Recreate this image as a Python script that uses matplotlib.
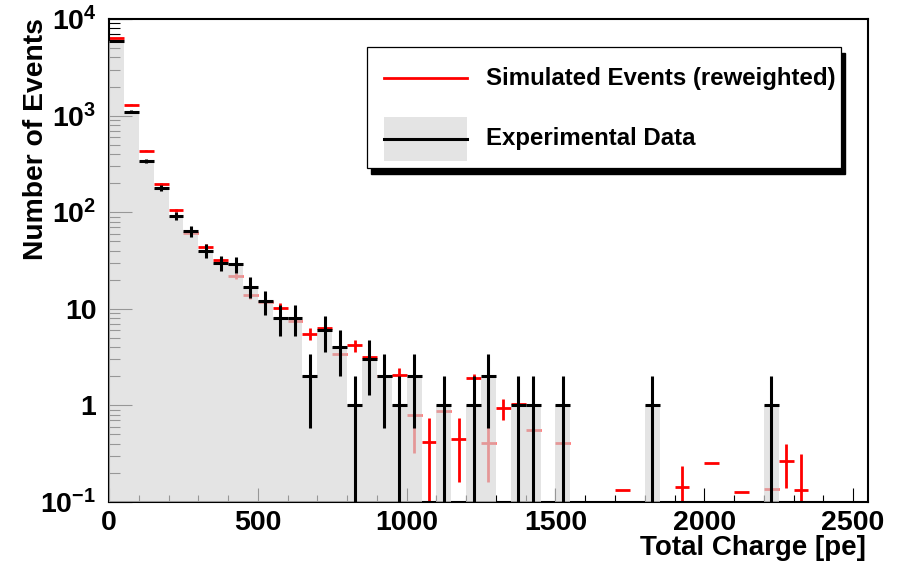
import numpy as np
import matplotlib
matplotlib.use("Agg")
import matplotlib.pyplot as plt
from matplotlib.patches import Rectangle
from matplotlib.lines import Line2D
from matplotlib.ticker import FixedLocator, MultipleLocator, LogLocator, NullFormatter

plt.rcParams['font.family'] = ['Liberation Sans', 'DejaVu Sans']
plt.rcParams['font.weight'] = 'bold'
plt.rcParams['mathtext.fontset'] = 'custom'
plt.rcParams['mathtext.rm'] = 'Liberation Sans:bold'
plt.rcParams['mathtext.bf'] = 'Liberation Sans:bold'
plt.rcParams['mathtext.it'] = 'Liberation Sans:bold'

# histogram binning: 51 bins of 50 pe from 0 to 2550
bin_width = 50
bin_edges = np.arange(0, 2551, bin_width)

# experimental data (counts per bin)
data_counts = [5900, 1100, 340, 178, 92, 64, 40, 30, 29, 17, 12, 8, 8, 2, 6, 4,
               1, 3, 2, 1, 2, 0, 1, 0, 1, 2, 0, 1, 1, 0, 1,
               0, 0, 0, 0, 0, 1, 0, 0, 0, 0, 0, 0, 0, 1, 0, 0, 0, 0, 0, 0]

# simulated events (reweighted) and their errors
sim_values = [6300, 1300, 433, 197, 105, 60.5, 44, 31.8, 22.0, 13.9, 11.8, 10.3,
              7.4, 5.5, 6.3, 3.38, 4.2, 3.15, 2.0, 2.08, 0.79, 0.415, 0.875, 0.45,
              1.9, 0.41, 0.93, 1.03, 0.556, 0, 0.405,
              0, 0, 0, 0.133, 0, 0, 0, 0.144, 0, 0.255, 0, 0.128, 0, 0.137,
              0.268, 0.132, 0, 0, 0, 0]
sim_errors = [0, 10, 8, 5, 4, 3, 2.5, 2, 1.7, 1.3, 1.2, 1.2, 0.9, 0.8, 0.9, 0.6,
              0.6, 0.5, 0.4, 0.36, 0.47, 0.32, 0.3, 0.29, 0.2, 0.25, 0.23, 0.15,
              0.33, 0, 0.3,
              0, 0, 0, 0, 0, 0, 0, 0.09, 0, 0, 0, 0, 0, 0.1, 0.13, 0.18, 0, 0, 0, 0]

x_ticks = [0, 500, 1000, 1500, 2000, 2500]
y_ticks = [0.1, 1, 10, 100, 1000, 10000]
y_ticklabels = [r'$\mathbf{10^{-1}}$', '1', '10', r'$\mathbf{10^{2}}$',
                r'$\mathbf{10^{3}}$', r'$\mathbf{10^{4}}$']

centers = bin_edges[:-1] + bin_width / 2
counts = np.array(data_counts, dtype=float)
sim = np.array(sim_values, dtype=float)
sim_err = np.array(sim_errors, dtype=float)

fill_col = '#d9d9d9'
fill_alpha = 0.7

W, H = 899, 565
fig = plt.figure(figsize=(W / 100, H / 100), dpi=100)
ax = fig.add_axes([109 / W, 1 - 502 / H, 759 / W, 483 / H])
ax.set_yscale('log', nonpositive='clip')

# simulated (drawn first, under the data fill)
m = sim > 0
lo = np.minimum(sim_err[m], sim[m] * 0.999)
ax.errorbar(centers[m], sim[m], xerr=bin_width / 2, yerr=[lo, sim_err[m]],
            fmt='none', ecolor='#ff0000', elinewidth=2.0, capsize=0, zorder=2)

# experimental data: grey filled histogram + poisson error bars
ax.bar(centers, counts, width=bin_width, color=fill_col, alpha=fill_alpha,
       linewidth=0, zorder=3)
k = counts > 0
err = np.sqrt(counts[k])
lo_d = np.where(counts[k] - err <= 0, counts[k] * 0.999, err)
ax.errorbar(centers[k], counts[k], xerr=bin_width / 2, yerr=[lo_d, err],
            fmt='none', ecolor='black', elinewidth=2.2, capsize=0, zorder=4)

ax.set_xlim(0, 2550)
ax.set_ylim(0.1, 1e4)

ax.xaxis.set_major_locator(FixedLocator(x_ticks))
ax.set_xticklabels([str(t) for t in x_ticks])
ax.xaxis.set_minor_locator(MultipleLocator(100))
ax.yaxis.set_major_locator(FixedLocator(y_ticks))
ax.set_yticklabels(y_ticklabels)
ax.yaxis.set_minor_locator(LogLocator(base=10, subs=np.arange(2, 10)))
ax.yaxis.set_minor_formatter(NullFormatter())

ax.tick_params(which='both', direction='in', top=False, right=False,
               labelsize=20.5, width=0.8)
ax.tick_params(axis='x', which='major', length=10.4, pad=6)
ax.tick_params(axis='x', which='minor', length=5.2)
ax.tick_params(axis='y', which='major', length=16.4, pad=9)
ax.tick_params(axis='y', which='minor', length=8.2)
for s in ax.spines.values():
    s.set_linewidth(1.5)

fig.text(866 / W, 1 - 548 / H, 'Total Charge [pe]', fontsize=20,
         fontweight='bold', ha='right', va='center')
fig.text(36 / W, 1 - 18 / H, 'Number of Events', fontsize=20.3,
         fontweight='bold', rotation=90, ha='center', va='top')

# legend box with shadow (ROOT style)
def fx(px):
    return px / W

def fy(py):
    return 1 - py / H

shadow = Rectangle((fx(371), fy(174)), fx(841) - fx(367), fy(47) - fy(168),
                   transform=fig.transFigure, facecolor='black',
                   edgecolor='black', zorder=10)
box = Rectangle((fx(367), fy(168)), fx(841) - fx(367), fy(47) - fy(168),
                transform=fig.transFigure, facecolor='white',
                edgecolor='black', linewidth=0.9, zorder=11)
fig.patches.extend([shadow, box])
fig.lines.append(Line2D([fx(384), fx(467)], [fy(78), fy(78)],
                        transform=fig.transFigure, color='#ff0000',
                        linewidth=2.0, zorder=12))
grey = Rectangle((fx(384), fy(161)), fx(467) - fx(384), fy(117) - fy(161),
                 transform=fig.transFigure, facecolor=fill_col,
                 alpha=fill_alpha, edgecolor='none', zorder=12)
fig.patches.append(grey)
fig.lines.append(Line2D([fx(384), fx(467)], [fy(139), fy(139)],
                        transform=fig.transFigure, color='black',
                        linewidth=2.2, zorder=13))
fig.text(fx(486), fy(78), 'Simulated Events (reweighted)', fontsize=17.3,
         fontweight='bold', ha='left', va='center', zorder=13)
fig.text(fx(486), fy(139), 'Experimental Data', fontsize=17.3,
         fontweight='bold', ha='left', va='center', zorder=13)

fig.savefig('out.png', dpi=100)
